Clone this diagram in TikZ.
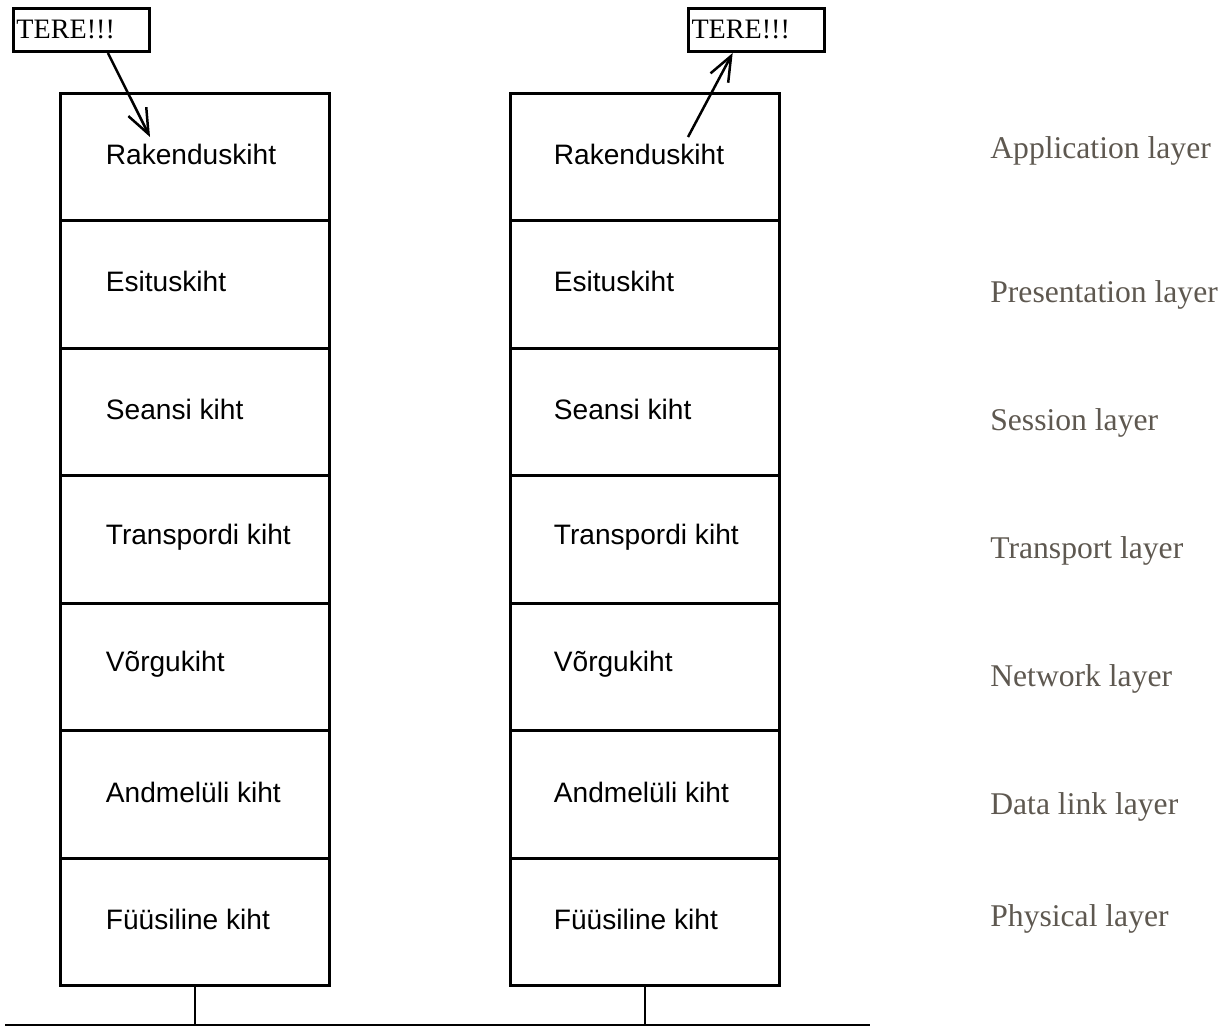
\documentclass[tikz,border=0pt]{standalone}
\usepackage{fontspec}
\setmainfont{Liberation Serif}
\setsansfont{Liberation Sans}
\usetikzlibrary{arrows.meta}
\definecolor{layergray}{RGB}{94,88,80}

\begin{document}
\begin{tikzpicture}[x=0.02cm, y=-0.02cm,
	cell/.style={draw, line width=0.06cm, minimum width=5.4cm, minimum height=2.55cm},
	tag/.style={anchor=west, inner xsep=0, font=\sffamily\fontsize{16}{19}\selectfont},
	tere/.style={draw, line width=0.06cm, anchor=north west, minimum height=0.86cm, text width=2.6cm, inner xsep=0.06cm, align=left, font=\fontsize{16}{19}\selectfont},
	eng/.style={anchor=west, inner xsep=0, text=layergray, font=\fontsize{18}{22}\selectfont},
	msg/.style={line width=0.05cm, -{Straight Barb[length=5mm, width=4mm]}},
	wire/.style={line width=0.04cm}]
	\useasboundingbox (0,0) rectangle (1226,1027);
	\foreach \name [count=\i] in {Rakenduskiht, Esituskiht, Seansi kiht, Transpordi kiht, Võrgukiht, Andmelüli kiht, Füüsiline kiht} {
		\node[cell] (l\i) at (195, 29.2+127.57*\i) {};
		\node[cell] (r\i) at (645, 29.2+127.57*\i) {};
		\node[tag] (lt\i) at ([xshift=0.94cm, yshift=0.05cm]l\i.west) {\name};
		\node[tag] (rt\i) at ([xshift=0.9cm, yshift=0.05cm]r\i.west) {\name};
	}
	\foreach \name/\y [count=\i] in {Application layer/151, Presentation layer/295, Session layer/423, Transport layer/551, Network layer/679, Data link layer/807, Physical layer/919}
		\node[eng] (e\i) at (990,\y) {\name};
	\node[tere] (tere1) at (12,7) {TERE!!!};
	\node[tere] (tere2) at (687,7) {TERE!!!};
	\coordinate (in1) at (150,137);
	\coordinate (out2) at (688,137);
	\draw[msg] (tere1.-41) -- (in1);
	\draw[msg] (out2) -- (tere2.-136);
	\coordinate (busA) at (5,1025);
	\coordinate (busB) at (870,1025);
	\draw[wire] (busA) -- (busB);
	\draw[wire] (l7.south) -- (l7.south |- busA);
	\draw[wire] (r7.south) -- (r7.south |- busA);
\end{tikzpicture}
\end{document}
